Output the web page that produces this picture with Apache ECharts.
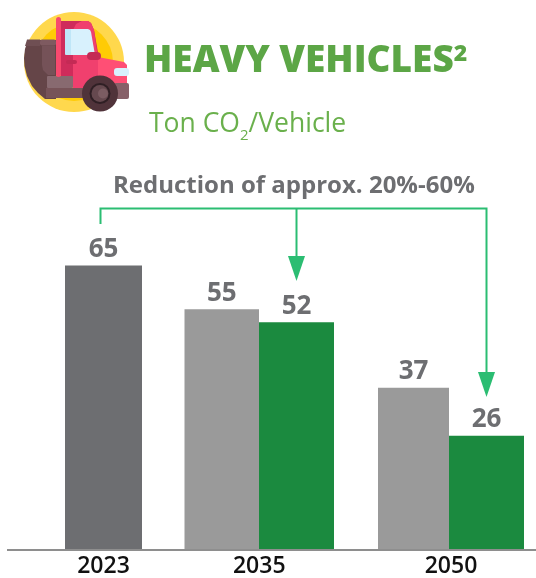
<!DOCTYPE html>
<html><head><meta charset="utf-8">
<style>html,body{margin:0;padding:0;background:#fff}#c{width:536px;height:578px}</style>
<script src="https://cdn.jsdelivr.net/npm/echarts@6/dist/echarts.min.js"></script>
</head><body><div id="c"></div>
<script>
const years = ['2023', '2035', '2050'];
const actual = [65];
const baseline2035 = [55];
const target2035 = [52];
const baseline2050 = [37];
const target2050 = [26];
const FONT = '"Open Sans", sans-serif';
const GREY = '#6d6e71', LIGHT = '#9a9a9a', GREEN = '#1b8a3f', ARROW = '#2bbd72';
const label = {show:true, position:'top', distance:3, fontFamily:FONT, fontWeight:'bold', fontSize:26, color:GREY};
const xAxis = (i, cat) => ({gridIndex:i, type:'category', data:[cat], axisLine:{show:false}, axisTick:{show:false},
  axisLabel:{fontFamily:FONT, fontWeight:600, fontSize:23, color:'#111', margin:6}});
const yAxis = i => ({gridIndex:i, type:'value', min:0, max:100, show:false});
const bar = (i, data, color, barWidth) => ({type:'bar', xAxisIndex:i, yAxisIndex:i, data, barGap:0, barWidth,
  itemStyle:{color}, label, silent:true});
const line = (points, w=2) => ({type:'polyline', z:5, shape:{points}, style:{stroke:ARROW, lineWidth:w, fill:null}});
const poly = (points, fill, z=3) => ({type:'polygon', z, shape:{points}, style:{fill}});
const circ = (cx, cy, r, fill, z=3) => ({type:'circle', z, shape:{cx, cy, r}, style:{fill}});
const rect = (x, y, width, height, fill, r=0, z=3) => ({type:'rect', z, shape:{x, y, width, height, r}, style:{fill}});
const icon = [
  circ(74,62,50,'#ffd84d',1), circ(74,62,39,'#ffcb05',2),
  // load
  poly([[28,40],[56,40],[56,99],[45,99],[38,93],[32,86],[27,76],[24.5,66],[24,58],[25,49]],'#654548'),
  poly([[42,46],[55,46],[55,75],[48,75],[43,70],[42,65]],'#755258',4),
  poly([[27,39.5],[40,39.5],[40,46],[25,46]],'#6f4f53',4),
  rect(40,39.5,16,6,'#7e5a60',2,4),
  rect(47,76,26,12,'#886a70',1,4),
  // cab
  poly([[61,21],[88,21],[91,23],[94,30],[99,58],[99,78],[61,78]],'#cf2c5b'),
  poly([[73,30],[76,24],[82,21],[88,21],[91,23],[94,30],[98,58],[98,88],[73,88],[73,60]],'#f0406e',4),
  poly([[98,57],[124,62],[127,65],[127,84],[98,84]],'#ff4f75',4),
  rect(46,88,40,10,'#775358',0,5),
  rect(56,17,5,60,'#f7496f',2.5,5),
  poly([[65,29],[88,29],[90,30],[91,32],[95,55],[71,55],[66,54],[65,50]],'#d8f1fd',5),
  rect(65,29,6,26,'#bfe6f8',1,5),
  rect(87,52,14,8,'#c42a55',4,6),
  rect(66,60,11,4,'#c42a55',2,6),
  rect(114,68,15,8,'#d8f1fd',3,6),
  rect(114,83,15,16,'#866068',2,4),
  circ(100,93.5,18,'#50333a',6), circ(100,93.5,10.5,'#2f1f24',7), circ(100,93.5,8.5,'#66494f',8), circ(103,93.5,5,'#7b5c62',9)
];
const chart = echarts.init(document.getElementById('c'));
chart.setOption({
  animation:false,
  backgroundColor:'#fff',
  title:[
    {left:144, top:43, padding:0, text:'HEAVY VEHICLES{s|2}', textStyle:{fontFamily:FONT, fontWeight:800, fontSize:37, color:'#5ca646',
      rich:{s:{fontFamily:FONT, fontWeight:800, fontSize:23, color:'#5ca646', verticalAlign:'top', padding:[0,0,8,0]}}}},
    {left:149, top:106, padding:0, text:'Ton CO{s|2}/Vehicle', textStyle:{fontFamily:FONT, fontWeight:'normal', fontSize:26.5, color:'#6ab04c',
      rich:{s:{fontFamily:FONT, fontSize:15, color:'#6ab04c', padding:[22,0,0,0]}}}},
    {left:113, top:174, padding:0, text:'Reduction of approx. 20%-60%', textStyle:{fontFamily:FONT, fontWeight:'bold', fontSize:24, color:GREY}}
  ],
  grid:[
    {left:65, width:77, top:113, height:436, outerBoundsMode:'none'},
    {left:184.5, width:149.5, top:113, height:436, outerBoundsMode:'none'},
    {left:378, width:146, top:113, height:436, outerBoundsMode:'none'}
  ],
  xAxis:[xAxis(0,years[0]), xAxis(1,years[1]), xAxis(2,years[2])],
  yAxis:[yAxis(0), yAxis(1), yAxis(2)],
  series:[
    bar(0, actual, GREY, 77),
    bar(1, baseline2035, LIGHT, 74.5), bar(1, target2035, GREEN, 75),
    bar(2, baseline2050, LIGHT, 71), bar(2, target2050, GREEN, 75)
  ],
  graphic:[
    ...icon,
    {type:'line', z:5, shape:{x1:7, y1:550, x2:536, y2:550}, style:{stroke:'#8e8e8e', lineWidth:2}},
    line([[100.5,224],[100.5,208.5],[486.5,208.5],[486.5,375]]),
    line([[296.5,208.5],[296.5,258]]),
    poly([[288,256],[305,256],[296.5,281]], ARROW),
    poly([[478,372],[495,372],[486.5,397]], ARROW)
  ]
});
</script></body></html>
